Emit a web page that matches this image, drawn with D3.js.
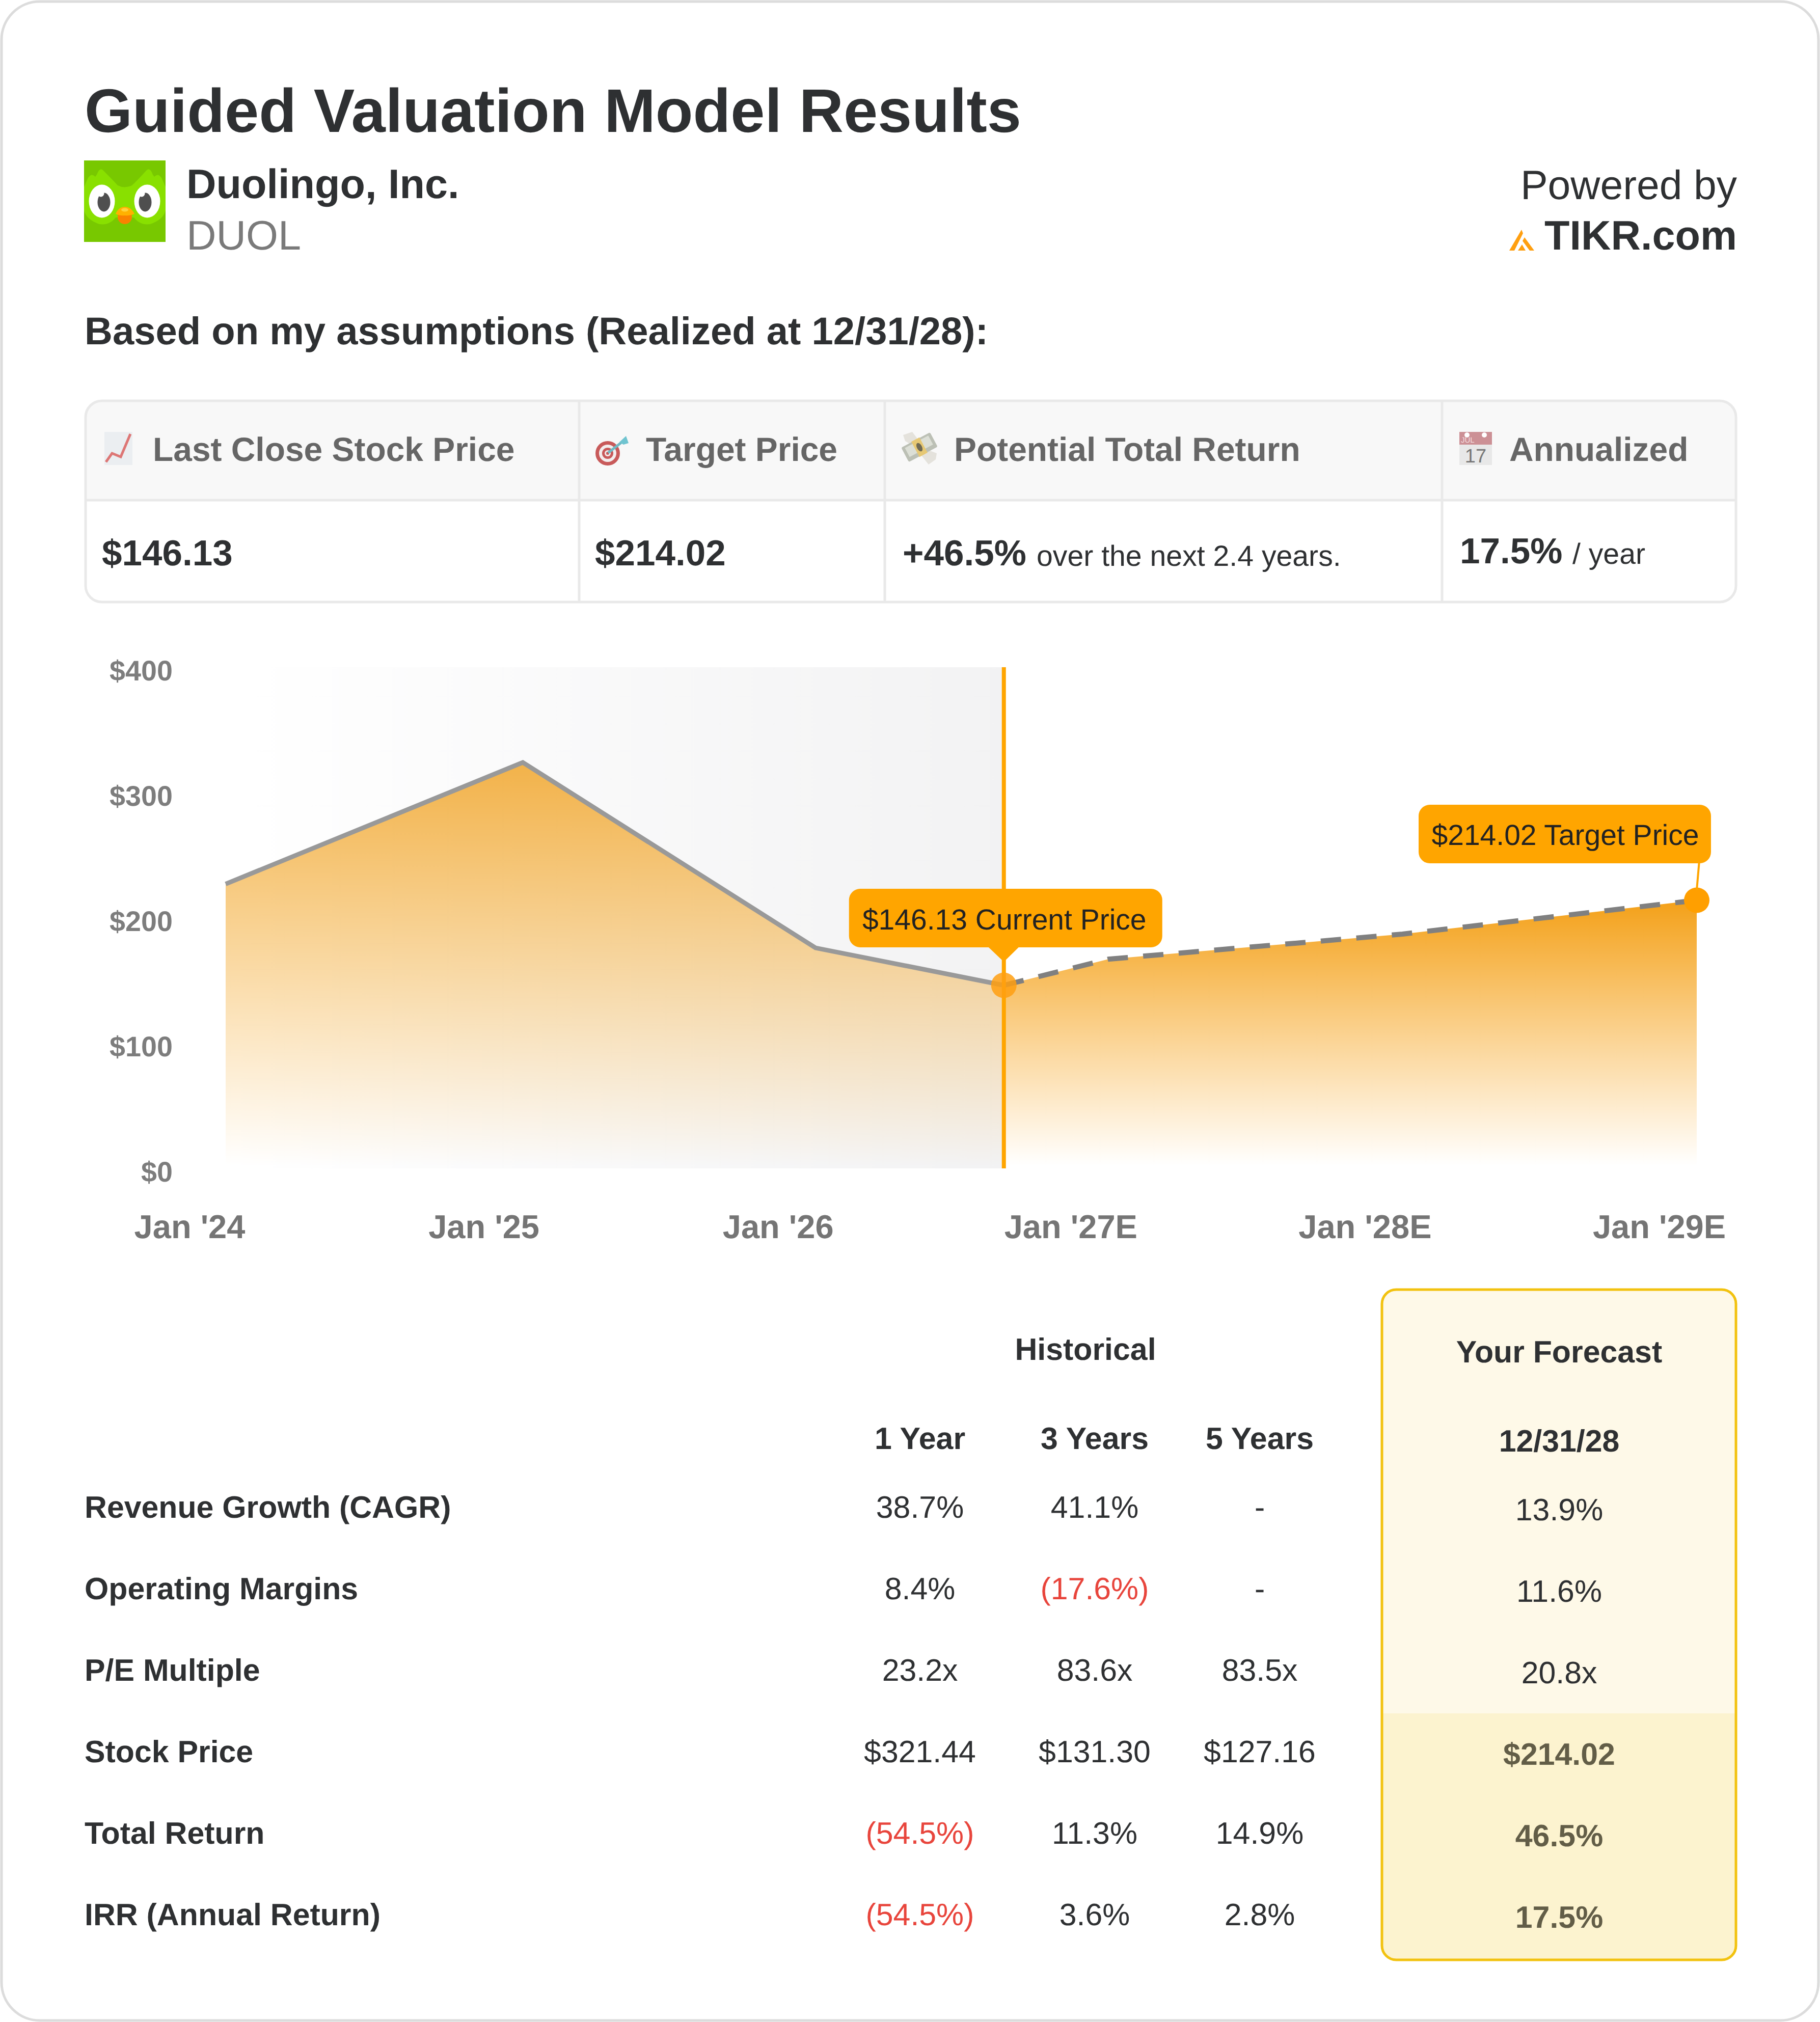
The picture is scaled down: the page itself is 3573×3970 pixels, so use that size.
<!DOCTYPE html>
<html>
<head>
<meta charset="utf-8">
<title>Guided Valuation Model Results</title>
<script src="https://cdn.jsdelivr.net/npm/d3@7"></script>
<style>
    html, body { margin: 0; padding: 0; background: #fff; }
    svg { display: block; }
    text { font-family: "Liberation Sans", Arial, sans-serif; text-rendering: geometricPrecision; }
</style>
</head>
<body>
<div id="chart"></div>
<script>
// price chart
const histYears = [2024, 2025.01, 2026.005, 2026.645];
const histPrices = [227, 324, 176, 146.13];
const forecastYears = [2026.645, 2027, 2028, 2029];
const forecastPrices = [146.13, 167, 187, 214.02];
const priceTicks = [0, 100, 200, 300, 400];
const yearTicks = [2024, 2025, 2026, 2027, 2028, 2029];
const yearLabels = ["Jan '24", "Jan '25", "Jan '26", "Jan '27E", "Jan '28E", "Jan '29E"];

// summary strip
const summaryHeads = ["Last Close Stock Price", "Target Price", "Potential Total Return", "Annualized"];
const summaryValues = ["$146.13", "$214.02", "+46.5%", "17.5%"];
const summaryNotes = ["", "", "over the next 2.4 years.", "/ year"];

// lower table
const rowLabels = ["Revenue Growth (CAGR)", "Operating Margins", "P/E Multiple", "Stock Price", "Total Return", "IRR (Annual Return)"];
const histHeads = ["1 Year", "3 Years", "5 Years"];
const oneYear = ["38.7%", "8.4%", "23.2x", "$321.44", "(54.5%)", "(54.5%)"];
const threeYears = ["41.1%", "(17.6%)", "83.6x", "$131.30", "11.3%", "3.6%"];
const fiveYears = ["-", "-", "83.5x", "$127.16", "14.9%", "2.8%"];
const forecastCol = ["13.9%", "11.6%", "20.8x", "$214.02", "46.5%", "17.5%"];

const width = 3573, height = 3970;
const dark = "#2e3032", orange = "#ffa500";

const svg = d3.select("#chart").append("svg").attr("width", width).attr("height", height);
const defs = svg.append("defs");

function label(parent, str, x, y, size, opts = {}) {
    return parent.append("text")
        .attr("x", x).attr("y", y)
        .attr("font-size", size)
        .attr("font-weight", opts.weight || "normal")
        .attr("text-anchor", opts.anchor || "start")
        .attr("fill", opts.fill || dark)
        .text(str);
}

// card
svg.append("rect").attr("x", 3).attr("y", 3).attr("width", width - 6).attr("height", height - 6)
    .attr("rx", 75).attr("fill", "#fff").attr("stroke", "#dcdcdc").attr("stroke-width", 5);

// header
label(svg, "Guided Valuation Model Results", 166, 259, 120.8, { weight: "bold" });
label(svg, "Duolingo, Inc.", 366, 389, 81, { weight: "bold" });
label(svg, "DUOL", 366, 490, 81, { fill: "#7a7a7a" });
label(svg, "Powered by", 3410, 391, 80.5, { anchor: "end" });
label(svg, "TIKR.com", 3410, 490, 81, { weight: "bold", anchor: "end" });
label(svg, "Based on my assumptions (Realized at 12/31/28):", 166, 676, 76, { weight: "bold" });

// duolingo owl
const owl = svg.append("g").attr("transform", "translate(165,315)");
owl.append("rect").attr("width", 160).attr("height", 160).attr("fill", "#78c800");
owl.append("path").attr("fill", "#89e000")
    .attr("d", "M0,52 L8,34 Q15,24 22,32 L25,28 Q31,12 38,20 Q58,40 66,49 Q80,56 94,49 Q104,40 122,20 Q129,12 135,28 L138,32 Q145,24 152,34 L160,52 L160,98 Q156,116 130,125 Q110,128 98,112 L62,112 Q50,128 30,125 Q4,116 0,98 Z");
[[35, 39, 33], [124, 120, 113]].forEach(([cx, px, hx]) => {
    owl.append("ellipse").attr("cx", cx).attr("cy", 80).attr("rx", 25.5).attr("ry", 32.5).attr("fill", "#fff");
    owl.append("ellipse").attr("cx", px).attr("cy", 82).attr("rx", 12.5).attr("ry", 18.5).attr("fill", "#4f4f4f");
    owl.append("circle").attr("cx", hx).attr("cy", 65).attr("r", 6.5).attr("fill", "#fff");
});
owl.append("circle").attr("cx", 80).attr("cy", 111).attr("r", 14).attr("fill", "#f98200");
owl.append("path").attr("fill", "#ffb100").attr("d", "M62,105 Q68,91 80,91 Q92,91 99,105 Q88,109 80,108 Q72,109 62,105 Z");
owl.append("ellipse").attr("cx", 80).attr("cy", 97).attr("rx", 7).attr("ry", 3.5).attr("fill", "#ffd23c");

// tikr mark
const tikr = svg.append("g").attr("fill", "#ff9f10");
["M2963,492 L2987,451 L2990,458 L2973,492 Z", "M2993,466 L3012,492 L3003,492 L2989,473 Z", "M2980,492 L2988,480 L2995,492 Z"]
    .forEach(d => tikr.append("path").attr("d", d));

// summary strip
const stripX = 168, stripR = 3408, stripTop = 787, stripMid = 982, stripBottom = 1182;
const colEdges = [1137, 1737, 2831];
const clipId = "strip-clip";
defs.append("clipPath").attr("id", clipId).append("rect")
    .attr("x", stripX).attr("y", stripTop).attr("width", stripR - stripX).attr("height", stripBottom - stripTop).attr("rx", 32);
svg.append("rect").attr("x", stripX).attr("y", stripTop).attr("width", stripR - stripX).attr("height", stripMid - stripTop)
    .attr("fill", "#f8f8f8").attr("clip-path", `url(#${clipId})`);
colEdges.forEach(x => svg.append("line").attr("x1", x).attr("x2", x).attr("y1", stripTop).attr("y2", stripBottom)
    .attr("stroke", "#e9e9e9").attr("stroke-width", 5));
svg.append("line").attr("x1", stripX).attr("x2", stripR).attr("y1", stripMid).attr("y2", stripMid)
    .attr("stroke", "#e9e9e9").attr("stroke-width", 5);
svg.append("rect").attr("x", stripX).attr("y", stripTop).attr("width", stripR - stripX).attr("height", stripBottom - stripTop)
    .attr("rx", 32).attr("fill", "none").attr("stroke", "#e9e9e9").attr("stroke-width", 5);

const headX = [300, 1268, 1873, 2963];
const valueX = [200, 1168, 1772, 2866];
const valueY = [1110, 1110, 1110, 1106];
const noteX = [0, 0, 2035, 3087];
summaryHeads.forEach((h, i) => {
    label(svg, h, headX[i], 905, 65.9, { weight: "bold", fill: "#666" });
    label(svg, summaryValues[i], valueX[i], valueY[i], 71, { weight: "bold" });
    if (summaryNotes[i]) label(svg, summaryNotes[i], noteX[i], valueY[i] + 1, 57.2);
});

// emoji stand-ins in the header cells
const chartIcon = svg.append("g").attr("opacity", 0.85);
chartIcon.append("rect").attr("x", 205).attr("y", 848).attr("width", 55).attr("height", 65).attr("fill", "#e9edf0");
chartIcon.append("polyline").attr("points", "208,907 220,890 237,897 256,852")
    .attr("fill", "none").attr("stroke", "#d9605f").attr("stroke-width", 5);

const targetIcon = svg.append("g");
[[24, "#c85a5a"], [17, "#f3eeee"], [11, "#c85a5a"], [6, "#f3eeee"], [3, "#c85a5a"]].forEach(([r, c]) =>
    targetIcon.append("circle").attr("cx", 1193).attr("cy", 890).attr("r", r).attr("fill", c));
targetIcon.append("line").attr("x1", 1194).attr("y1", 889).attr("x2", 1226).attr("y2", 864)
    .attr("stroke", "#70b9c4").attr("stroke-width", 5);
targetIcon.append("path").attr("d", "M1216,868 L1229,856 L1234,870 L1224,873 Z").attr("fill", "#70c4d0");

// money with wings: wings first, then the bills
const moneyIcon = svg.append("g").attr("transform", "translate(1805,878)");
moneyIcon.append("path").attr("fill", "#e4e2dc")
    .attr("d", "M-32,-24 L-14,-30 L-2,-14 L-18,-6 L-28,-12 Z M32,24 L18,34 L2,14 L18,6 L34,12 Z");
const bills = moneyIcon.append("g").attr("transform", "rotate(-28)");
bills.append("rect").attr("x", -32).attr("y", -16).attr("width", 64).attr("height", 32).attr("rx", 3).attr("fill", "#bcc0b5");
bills.append("rect").attr("x", -26).attr("y", -12).attr("width", 52).attr("height", 20).attr("fill", "#dcdfd6");
bills.append("rect").attr("x", -9).attr("y", -17).attr("width", 18).attr("height", 34).attr("fill", "#e6c874");
bills.append("ellipse").attr("rx", 5).attr("ry", 9).attr("fill", "#6f6a55");

svg.append("rect").attr("x", 2865).attr("y", 848).attr("width", 64).attr("height", 25).attr("fill", "#cc9095");
svg.append("rect").attr("x", 2865).attr("y", 873).attr("width", 64).attr("height", 40).attr("fill", "#e8e8e8");
[2880, 2914].forEach(x => svg.append("circle").attr("cx", x).attr("cy", 854).attr("r", 5).attr("fill", "#fff"));
label(svg, "JUL", 2868, 869, 15, { fill: "#f6dfe0" });
label(svg, "17", 2897, 908, 38, { anchor: "middle", fill: "#777" });

// price chart scales
const x = d3.scaleLinear().domain([2024, 2029]).range([443, 3331]);
const y = d3.scaleLinear().domain([0, 400]).range([2294, 1310]);
const hist = histYears.map((yr, i) => [yr, histPrices[i]]);
const fcast = forecastYears.map((yr, i) => [yr, forecastPrices[i]]);
const nowX = x(histYears[histYears.length - 1]);
const nowY = y(histPrices[histPrices.length - 1]);
const endX = x(forecastYears[forecastYears.length - 1]);
const endY = y(forecastPrices[forecastPrices.length - 1]);

function gradient(id, attrs, stops) {
    const g = defs.append("linearGradient").attr("id", id).attr("gradientUnits", "userSpaceOnUse");
    Object.entries(attrs).forEach(([k, v]) => g.attr(k, v));
    stops.forEach(([o, c, a]) => g.append("stop").attr("offset", o).attr("stop-color", c).attr("stop-opacity", a));
}
gradient("past-bg", { x1: x(2024), x2: nowX, y1: 0, y2: 0 }, [[0, "#f2f2f3", 0], [1, "#f2f2f3", 1]]);
gradient("past-fill", { x1: 0, x2: 0, y1: y(324), y2: y(2) }, [[0, "#f0a52a", 0.85], [1, "#f5a623", 0]]);
gradient("future-fill", { x1: 0, x2: 0, y1: endY, y2: y(2) }, [[0, "#f3a018", 1], [1, "#f8a825", 0]]);

svg.append("rect").attr("x", x(2024)).attr("y", y(400)).attr("width", nowX - x(2024)).attr("height", y(0) - y(400))
    .attr("fill", "url(#past-bg)");

const area = d3.area().x(d => x(d[0])).y0(y(0)).y1(d => y(d[1]));
const line = d3.line().x(d => x(d[0])).y(d => y(d[1]));

svg.append("path").datum(hist).attr("d", area).attr("fill", "url(#past-fill)");
svg.append("path").datum(fcast).attr("d", area).attr("fill", "url(#future-fill)");
svg.append("path").datum(hist).attr("d", line).attr("fill", "none").attr("stroke", "#999").attr("stroke-width", 9);
svg.append("path").datum(fcast).attr("d", line).attr("fill", "none").attr("stroke", "#808080")
    .attr("stroke-width", 10).attr("stroke-dasharray", "40 30");

svg.append("line").attr("x1", nowX).attr("x2", nowX).attr("y1", y(400)).attr("y2", y(0))
    .attr("stroke", orange).attr("stroke-width", 8);

// axes, no rules, only the labels
const yAxis = svg.append("g").attr("transform", "translate(339,0)")
    .call(d3.axisLeft(y).tickValues(priceTicks).tickFormat(d => "$" + d).tickSize(0).tickPadding(0));
const xAxis = svg.append("g").attr("transform", "translate(-71,2431)")
    .call(d3.axisBottom(x).tickValues(yearTicks).tickFormat((d, i) => yearLabels[i]).tickSize(0).tickPadding(0));
[yAxis, xAxis].forEach(a => a.select(".domain").remove());
yAxis.selectAll("text").attr("font-size", 55.7).attr("font-weight", "bold").attr("fill", "#7d7d7d").attr("dy", 25);
xAxis.selectAll("text").attr("font-size", 65).attr("font-weight", "bold").attr("fill", "#757575")
    .attr("x", (d, i) => i > 2 ? -3 : 0).attr("y", 0).attr("dy", 0);
[yAxis, xAxis].forEach(a => a.attr("font-family", null));

// callouts
svg.append("circle").attr("cx", nowX).attr("cy", nowY).attr("r", 25).attr("fill", "#ff9f10").attr("opacity", 0.85);
svg.append("circle").attr("cx", endX).attr("cy", endY).attr("r", 25).attr("fill", "#ff9f00");
svg.append("line").attr("x1", endX + 5).attr("y1", 1690).attr("x2", endX).attr("y2", endY - 20)
    .attr("stroke", orange).attr("stroke-width", 4);

svg.append("path").attr("fill", orange)
    .attr("d", `M${nowX - 32},1858 L${nowX},${nowY - 46} L${nowX + 31},1858 Z`);
svg.append("rect").attr("x", nowX - 304).attr("y", 1745).attr("width", 615).attr("height", 115).attr("rx", 22).attr("fill", orange);
label(svg, "$146.13 Current Price", nowX + 1, 1825, 57, { anchor: "middle", fill: "#222" });
svg.append("rect").attr("x", endX - 546).attr("y", 1580).attr("width", 574).attr("height", 115).attr("rx", 22).attr("fill", orange);
label(svg, "$214.02 Target Price", endX - 258, 1659, 57, { anchor: "middle", fill: "#222" });

// lower table
const rowBase = 2980, rowStep = 160;
const colX = [1806, 2149, 2473];
const forecastX = 3061;
label(svg, "Historical", 2131, 2670, 60.8, { weight: "bold", anchor: "middle" });
histHeads.forEach((h, i) => label(svg, h, colX[i], 2845, 60.8, { weight: "bold", anchor: "middle" }));
rowLabels.forEach((r, i) => {
    label(svg, r, 166, rowBase + i * rowStep, 60.8, { weight: "bold" });
    [oneYear, threeYears, fiveYears].forEach((col, c) => {
        const v = col[i];
        label(svg, v, colX[c], rowBase + i * rowStep, 60.8, { anchor: "middle", fill: v.startsWith("(") ? "#e8453c" : dark });
    });
});

// forecast box
const boxX = 2713, boxY = 2532, boxW = 695, boxH = 1316, bandY = 3364;
defs.append("clipPath").attr("id", "box-clip").append("rect")
    .attr("x", boxX).attr("y", boxY).attr("width", boxW).attr("height", boxH).attr("rx", 28);
svg.append("rect").attr("x", boxX).attr("y", boxY).attr("width", boxW).attr("height", boxH).attr("rx", 28).attr("fill", "#fef9e8");
svg.append("rect").attr("x", boxX).attr("y", bandY).attr("width", boxW).attr("height", boxY + boxH - bandY)
    .attr("fill", "#fcf3cf").attr("clip-path", "url(#box-clip)");
svg.append("rect").attr("x", boxX).attr("y", boxY).attr("width", boxW).attr("height", boxH).attr("rx", 28)
    .attr("fill", "none").attr("stroke", "#f2c20f").attr("stroke-width", 5);
label(svg, "Your Forecast", forecastX, 2675, 60.8, { weight: "bold", anchor: "middle" });
label(svg, "12/31/28", forecastX, 2850, 60.8, { weight: "bold", anchor: "middle" });
forecastCol.forEach((v, i) => {
    const strong = i >= 3;
    label(svg, v, forecastX, rowBase + 5 + i * rowStep, 60.8, {
        anchor: "middle",
        weight: strong ? "bold" : "normal",
        fill: strong ? "#625d47" : dark
    });
});
</script>
</body>
</html>
